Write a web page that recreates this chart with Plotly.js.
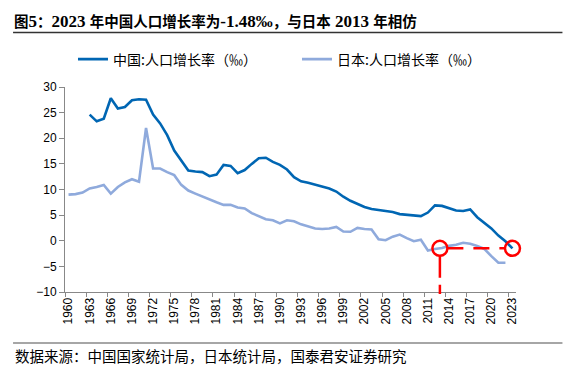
<!DOCTYPE html>
<html>
<head>
<meta charset="utf-8">
<script src="https://cdn.plot.ly/plotly-3.0.1.min.js"></script>
<style>html,body{margin:0;padding:0;background:#fff;}#chart{width:571px;height:369px;}</style>
</head>
<body>
<div id="chart"></div>
<script>
// ---- data ----
var years = [];
for (var y = 1960; y <= 2023; y++) years.push(y);

var chinaName = "中国:人口增长率（‰）";
var japanName = "日本:人口增长率（‰）";

var chinaRate = [null, null, null,
  24.6, 23.3, 23.8, 27.8, 25.8, 26.1, 27.4, 27.6,
  27.5, 24.6, 22.9, 20.6, 17.6, 15.6, 13.7, 13.5, 13.4, 12.6,
  12.9, 14.8, 14.6, 13.2, 13.8, 15.0, 16.1, 16.2, 15.4, 14.8,
  13.9, 12.4, 11.6, 11.3, 10.9, 10.5, 10.2, 9.6, 8.6, 7.8,
  7.2, 6.6, 6.2, 6.0, 5.9, 5.6, 5.2, 5.1, 5.0, 4.8,
  5.5, 6.9, 6.8, 6.4, 5.9, 5.8, 6.1, 4.6, 3.5, 2.4,
  1.0, -0.1, -1.48];

var japanRate = [
  9.0, 9.1, 9.4, 10.2, 10.5, 10.9, 9.2, 10.5, 11.4, 12.0,
  11.5, 22.0, 14.1, 14.1, 13.4, 12.8, 10.9, 9.8, 9.2, 8.6,
  8.1, 7.5, 7.0, 7.0, 6.5, 6.3, 5.4, 4.8, 4.2, 4.0,
  3.4, 4.0, 3.8, 3.2, 2.8, 2.4, 2.3, 2.4, 2.7, 1.8,
  1.75, 2.5, 2.3, 2.2, 0.3, 0.1, 0.8, 1.2, 0.5, -0.1,
  0.2, -1.9, -1.6, -1.4, -1.0, -0.8, -0.4, -0.6, -1.0, -1.6,
  -3.0, -4.3, -4.3, null];

var tickYears = [];
for (var t = 1960; t <= 2023; t += 3) tickYears.push(t);
var boundaryTicks = tickYears.map(function (v) { return v - 0.5; });

// highlighted comparison: Japan 2013 vs China 2023 (-1.48‰)
var markJapanYear = 2012.7, markChinaYear = 2023, markLevel = -1.48;

// ---- layout ----
var W = 571, H = 369;
var L = 65, R = 54.5, T = 87, B = 77;
var pw = W - L - R, ph = H - T - B;
var xRange = [1959.5, 2023.5], yRange = [-10, 30];
function px(xp) { return (xp - L) / pw; }
function py(yp) { return (H - B - yp) / ph; }
// data -> paper (follows the axis ranges), used so red marks are not clipped
function dx(v) { return (v - xRange[0]) / (xRange[1] - xRange[0]); }
function dy(v) { return (v - yRange[0]) / (yRange[1] - yRange[0]); }

var cjk = "'Noto Sans CJK SC', 'Noto Sans', sans-serif";
var latin = "'Liberation Sans', Arial, sans-serif";

var traces = [
  { x: years, y: chinaRate, name: chinaName, type: 'scatter', mode: 'lines',
    line: { color: '#0066B3', width: 2.6 }, connectgaps: false },
  { x: years, y: japanRate, name: japanName, type: 'scatter', mode: 'lines',
    line: { color: '#8FAADC', width: 2.6 }, connectgaps: false }
];

var red = '#FF0000';
var rPx = 7.5;
var shapes = [
  // title rule
  { type: 'line', xref: 'paper', yref: 'paper', x0: px(13), x1: px(563), y0: py(32.5), y1: py(32.5),
    line: { color: '#333333', width: 1.5 } },
  // footer rule
  { type: 'line', xref: 'paper', yref: 'paper', x0: px(13), x1: px(563), y0: py(343), y1: py(343),
    line: { color: '#888888', width: 1.5 } },
  // circles
  { type: 'circle', xref: 'paper', yref: 'paper', xsizemode: 'pixel', ysizemode: 'pixel',
    xanchor: dx(markJapanYear), yanchor: dy(markLevel), x0: -rPx, x1: rPx, y0: -rPx, y1: rPx,
    line: { color: red, width: 2.5 } },
  { type: 'circle', xref: 'paper', yref: 'paper', xsizemode: 'pixel', ysizemode: 'pixel',
    xanchor: dx(markChinaYear), yanchor: dy(markLevel), x0: -rPx, x1: rPx, y0: -rPx, y1: rPx,
    line: { color: red, width: 2.5 } },
  // horizontal dashed link
  { type: 'line', xref: 'paper', yref: 'paper',
    x0: dx(markJapanYear) + rPx / pw, x1: dx(markChinaYear) - rPx / pw,
    y0: dy(markLevel), y1: dy(markLevel), line: { color: red, width: 2.5, dash: '16px,10px' } },
  // vertical dashed drop
  { type: 'line', xref: 'paper', yref: 'paper', x0: dx(markJapanYear), x1: dx(markJapanYear),
    y0: dy(markLevel) - rPx / ph, y1: py(294), line: { color: red, width: 2.5, dash: '22px,7px' } }
];

function cj(s) { return '<span style="font-family:\'Noto Sans CJK SC\';font-size:14.5px">' + s + '</span>'; }
var titleText = '<b>' + cj('图') + '5' + cj('：') + '2023 ' + cj('年中国人口增长率为') + '-1.48‰' +
  cj('，与日本') + ' 2013 ' + cj('年相仿') + '</b>';

var layout = {
  width: W, height: H,
  margin: { l: L, r: R, t: T, b: B, pad: 0 },
  paper_bgcolor: '#ffffff', plot_bgcolor: '#ffffff',
  font: { family: latin, size: 12, color: '#000000' },
  title: {
    text: titleText,
    font: { family: "'Liberation Serif', serif", size: 17, color: '#000' },
    xref: 'container', yref: 'container', x: 14 / W, xanchor: 'left', y: 1 - 21.5 / H, yanchor: 'middle'
  },
  showlegend: true,
  legend: {
    orientation: 'h', x: px(73), xanchor: 'left', y: py(59.5), yanchor: 'middle',
    font: { family: cjk, size: 14, color: '#000' },
    entrywidth: 179, entrywidthmode: 'pixels',
    bgcolor: 'rgba(0,0,0,0)', itemwidth: 30
  },
  xaxis: {
    range: xRange, showgrid: false, zeroline: false,
    showline: true, linecolor: '#888888', linewidth: 1,
    tickmode: 'array', tickvals: tickYears, ticktext: tickYears.map(String),
    ticks: '', tickangle: -90, tickfont: { family: latin, size: 12, color: '#000' },
    minor: { tickmode: 'array', tickvals: boundaryTicks, ticks: 'outside', ticklen: 4,
             tickcolor: '#888888', tickwidth: 1, showgrid: false }
  },
  yaxis: {
    range: yRange, dtick: 5, tick0: 0, showgrid: false, zeroline: false,
    showline: true, linecolor: '#888888', linewidth: 1,
    ticks: 'outside', ticklen: 5, tickcolor: '#888888',
    tickfont: { family: latin, size: 12, color: '#000' }
  },
  shapes: shapes,
  annotations: [
    { xref: 'paper', yref: 'paper', x: px(13), y: py(355), xanchor: 'left', yanchor: 'middle',
      text: '数据来源：中国国家统计局，日本统计局，国泰君安证券研究', showarrow: false,
      font: { family: cjk, size: 14.5, color: '#000' } }
  ]
};

Plotly.newPlot('chart', traces, layout, { displayModeBar: false, staticPlot: true });
</script>
</body>
</html>
